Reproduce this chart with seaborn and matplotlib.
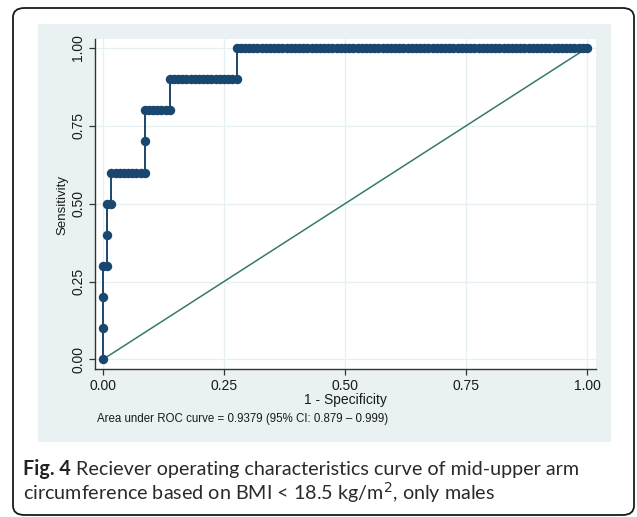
import matplotlib
matplotlib.use('Agg')
import matplotlib.pyplot as plt
from matplotlib.patches import FancyBboxPatch, Rectangle
import pandas as pd
import seaborn as sns

# ROC steps: sensitivity level and the false-positive count range at that level
n_controls = 116
tpr_levels = [0.0, 0.1, 0.2, 0.3, 0.4, 0.5, 0.6, 0.7, 0.8, 0.9, 1.0]
fp_start = [0, 0, 0, 0, 1, 1, 2, 10, 10, 16, 32]
fp_end = [0, 0, 0, 1, 1, 2, 10, 10, 16, 32, 116]

ticks = [0.0, 0.25, 0.5, 0.75, 1.0]
tick_labels = ['0.00', '0.25', '0.50', '0.75', '1.00']
auc_note = 'Area under ROC curve = 0.9379 (95% CI: 0.879 \u2013 0.999)'

rows = []
for level, a, b in zip(tpr_levels, fp_start, fp_end):
    for k in range(a, b + 1):
        rows.append((k / n_controls, level))
df = pd.DataFrame(rows, columns=['fpr', 'tpr'])

sns.set_theme(style='white')
plt.rcParams['font.family'] = ['Liberation Sans', 'DejaVu Sans']

W, H = 637, 517
fig = plt.figure(figsize=(W / 100, H / 100), dpi=100)
fig.patch.set_facecolor('white')

# outer rounded frame
frame = FancyBboxPatch((13 / W, 1 - 515 / H), (634 - 13) / W, (515 - 8) / H,
                       boxstyle='round,pad=0,rounding_size=0.018',
                       transform=fig.transFigure, facecolor='white',
                       edgecolor='#1a1a1a', linewidth=1.3, zorder=-2)
fig.patches.append(frame)
# graph region panel
panel = Rectangle((38 / W, 1 - 442 / H), (611 - 38) / W, (442 - 24) / H,
                  transform=fig.transFigure, facecolor='#E9F1F3', edgecolor='none',
                  zorder=-1)
fig.patches.append(panel)

ax = fig.add_axes([95 / W, 1 - 369 / H, (596 - 95) / W, (369 - 39) / H])
ax.set_facecolor('white')

ax.plot([0, 1], [0, 1], color='#37796C', linewidth=1.1, zorder=2)
sns.lineplot(data=df, x='fpr', y='tpr', sort=False, estimator=None,
             color='#1A476F', linewidth=1.4, marker='o', markersize=6.8,
             markeredgewidth=0, ax=ax, zorder=3)

ax.set_xlim(-0.0165, 1.0186)
ax.set_ylim(-0.031, 1.029)
ax.set_xticks(ticks)
ax.set_xticklabels(tick_labels)
ax.set_yticks(ticks)
ax.set_yticklabels(tick_labels, rotation=90, va='center')
ax.grid(True, color='#E6EFF2', linewidth=0.9)
ax.set_axisbelow(True)
for s in ['top', 'right']:
    ax.spines[s].set_visible(False)
for s in ['left', 'bottom']:
    ax.spines[s].set_color('#333333')
    ax.spines[s].set_linewidth(1.0)
ax.tick_params(axis='both', direction='out', length=4, width=0.9, color='#333333',
               labelsize=10, labelcolor='#1a1a1a', pad=3, bottom=True, left=True)
ax.set_xlabel('')
ax.set_ylabel('')

fig.text(62 / W, 1 - 205 / H, 'Sensitivity', rotation=90, ha='center', va='center',
         fontsize=9.5, color='#1a1a1a')
fig.text(345 / W, 1 - 400 / H, '1 - Specificity', ha='center', va='center',
         fontsize=10, color='#1a1a1a')
fig.text(97 / W, 1 - 419 / H, auc_note, ha='left', va='center',
         fontsize=8.3, color='#1a1a1a')

# caption
cap_font = ['Lato', 'DejaVu Sans']
cap_size = 14.2
fig_lbl = fig.text(23 / W, 1 - 469 / H, 'Fig. 4', ha='left', va='center',
                   fontsize=cap_size, fontweight='bold', family=cap_font, color='#222222')
fig.canvas.draw()
bb = fig_lbl.get_window_extent()
fig.text((bb.x1 + 5) / W, 1 - 469 / H,
         'Reciever operating characteristics curve of mid-upper arm',
         ha='left', va='center', fontsize=cap_size, family=cap_font, color='#2a2a2a')
fig.text(23 / W, 1 - 493 / H,
         'circumference based on BMI < 18.5 kg/m$^2$, only males',
         ha='left', va='center', fontsize=cap_size, family=cap_font, color='#2a2a2a')

fig.savefig('out.png', dpi=100, facecolor='white')
